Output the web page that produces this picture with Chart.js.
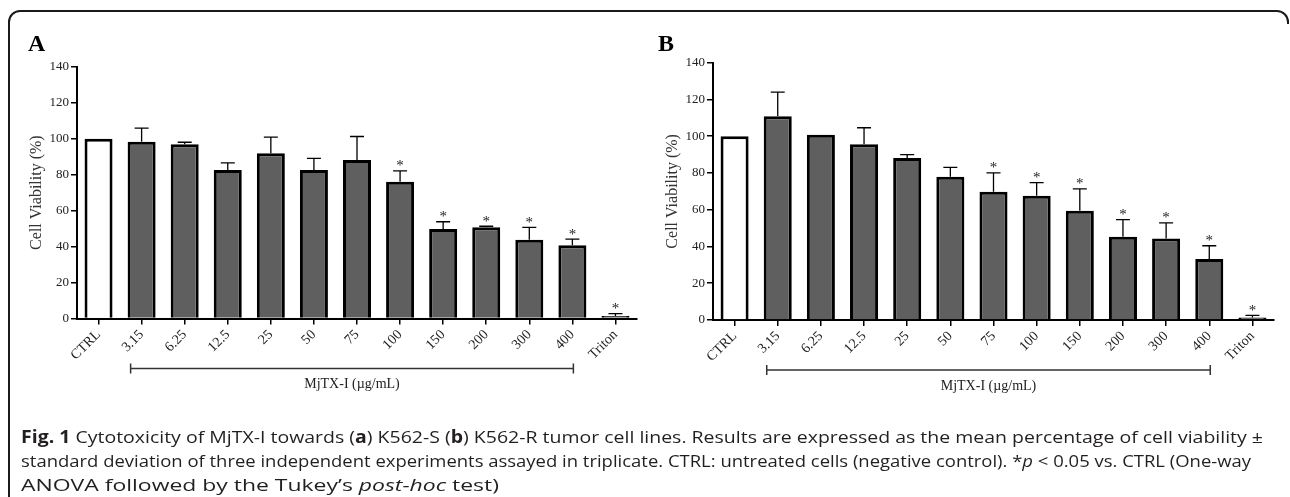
<!DOCTYPE html>
<html><head><meta charset="utf-8">
<script src="https://cdn.jsdelivr.net/npm/chart.js@4.4.1/dist/chart.umd.min.js"></script>
<style>
html,body{margin:0;padding:0;background:#fff;}
body{width:1290px;height:497px;overflow:hidden;position:relative;}
#overlay{position:absolute;left:0;top:0;}
.pw{position:absolute;top:0;width:645px;height:440px;}
.pw canvas{position:absolute;left:0;top:0;}
#wa{left:0}
#wb{left:636px}
.cap{position:absolute;left:21px;font-family:"Open Sans",sans-serif;font-size:17px;color:#231f20;white-space:nowrap;transform-origin:0 50%;display:inline-block;line-height:20px;}
.cap b{font-weight:700;}
</style></head>
<body>
<canvas id="overlay" width="1290" height="497"></canvas>
<div class="pw" id="wa"><canvas id="ca" width="645" height="440"></canvas></div>
<div class="pw" id="wb"><canvas id="cb" width="645" height="440"></canvas></div>
<div class="cap" id="l1" style="top:427px"><b>Fig. 1</b> Cytotoxicity of MjTX-I towards (<b>a</b>) K562-S (<b>b</b>) K562-R tumor cell lines. Results are expressed as the mean percentage of cell viability ±</div>
<div class="cap" id="l2" style="top:451px">standard deviation of three independent experiments assayed in triplicate. CTRL: untreated cells (negative control). *<i>p</i> &lt; 0.05 vs. CTRL (One-way</div>
<div class="cap" id="l3" style="top:475px">ANOVA followed by the Tukey’s <i>post-hoc</i> test)</div>
<script>
// ---- data ----
const categories = ['CTRL','3.15','6.25','12.5','25','50','75','100','150','200','300','400','Triton'];
const viabilityA = [100, 98.3, 96.9, 82.5, 91.9, 82.5, 88.1, 76.1, 49.7, 50.7, 43.8, 40.7, 1.4];
const errorTopA  = [100, 105.8, 98.0, 86.5, 100.8, 89.0, 101.2, 82.1, 53.8, 51.3, 50.7, 44.1, 2.7];
const significantA = [0,0,0,0,0,0,0,1,1,1,1,1,1];
const viabilityB = [100, 110.8, 100.8, 95.6, 88.1, 78.0, 69.8, 67.6, 59.5, 45.3, 44.4, 33.2, 1.3];
const errorTopB  = [100, 124.0, 100.8, 104.6, 90.0, 83.0, 80.0, 74.7, 71.3, 54.6, 52.8, 40.4, 2.5];
const significantB = [0,0,0,0,0,0,1,1,1,1,1,1,1];
const yTicks = [0, 20, 40, 60, 80, 100, 120, 140];
const yTitle = 'Cell Viability (%)';
const xTitle = 'MjTX-I (\u00b5g/mL)';
const panelLetters = ['A', 'B'];

const serif = '"Liberation Serif", "Times New Roman", serif';

function decoPlugin(values, errTop, sig, bracketOff, textOff) {
  return {
    id: 'deco',
    afterDatasetsDraw(chart) {
      const ctx = chart.ctx;
      const ys = chart.scales.y;
      const meta = chart.getDatasetMeta(0);
      ctx.save();
      ctx.strokeStyle = '#000';
      ctx.lineWidth = 1.3;
      meta.data.forEach((bar, i) => {
        const yb = ys.getPixelForValue(values[i]);
        const yt = ys.getPixelForValue(errTop[i]);
        if (yb - yt > 0.8) {
          ctx.beginPath();
          ctx.moveTo(bar.x, yb);
          ctx.lineTo(bar.x, yt);
          ctx.moveTo(bar.x - 7, yt);
          ctx.lineTo(bar.x + 7, yt);
          ctx.stroke();
        }
        if (sig[i]) {
          ctx.fillStyle = '#222';
          ctx.font = '15px ' + serif;
          ctx.textAlign = 'center';
          ctx.textBaseline = 'alphabetic';
          ctx.fillText('*', bar.x, Math.min(yt, yb) - 0.5);
        }
      });
      ctx.restore();
    },
    afterDraw(chart) {
      const ctx = chart.ctx;
      const xs = chart.scales.x;
      const y = chart.chartArea.bottom + bracketOff;
      const x1 = xs.getPixelForValue(1) - 11;
      const x2 = xs.getPixelForValue(11) + 1;
      ctx.save();
      ctx.strokeStyle = '#333';
      ctx.lineWidth = 1.5;
      ctx.beginPath();
      ctx.moveTo(x1, y); ctx.lineTo(x2, y);
      ctx.moveTo(x1, y - 5); ctx.lineTo(x1, y + 5);
      ctx.moveTo(x2, y - 5); ctx.lineTo(x2, y + 5);
      ctx.stroke();
      ctx.fillStyle = '#222';
      ctx.font = '14px ' + serif;
      ctx.textAlign = 'center';
      ctx.textBaseline = 'middle';
      ctx.fillText(xTitle, (x1 + x2) / 2, chart.chartArea.bottom + textOff);
      ctx.restore();
    }
  };
}

function buildChart(id, values, errTop, sig, geom) {
  const fills = categories.map((c, i) => i === 0 ? '#ffffff' : '#5f5f5f');
  return new Chart(document.getElementById(id), {
    type: 'bar',
    data: { labels: categories, datasets: [{
      data: values, backgroundColor: fills, borderColor: '#000', borderWidth: 3,
      barPercentage: 0.65, categoryPercentage: 1, borderSkipped: 'start'
    }]},
    options: {
      responsive: false, animation: false, events: [],
      layout: { padding: { left: 20, right: geom.right, top: geom.top, bottom: geom.bottom } },
      plugins: { legend: { display: false }, tooltip: { enabled: false } },
      scales: {
        x: {
          offset: true,
          grid: { display: true, drawOnChartArea: false, drawTicks: true, tickLength: 6, color: '#000', lineWidth: 1.5, offset: false },
          border: { display: true, color: '#000', width: 2 },
          ticks: { minRotation: 45, maxRotation: 45, autoSkip: false, font: { family: serif, size: 14 }, color: '#222', padding: 2 },
          afterFit: s => { s.height = 50; }
        },
        y: {
          min: 0, max: 140,
          afterBuildTicks: s => { s.ticks = yTicks.map(v => ({ value: v })); },
          ticks: { font: { family: serif, size: 13 }, color: '#222', padding: 2 },
          grid: { display: true, drawOnChartArea: false, tickLength: 6, color: '#000', lineWidth: 1.5 },
          border: { display: true, color: '#000', width: 2 },
          title: { display: true, text: yTitle, font: { family: serif, size: 16 }, color: '#333', padding: { top: 7, bottom: 0 } },
          afterFit: s => { s.width = 57; }
        }
      }
    },
    plugins: [decoPlugin(values, errTop, sig, geom.bracket, geom.text)]
  });
}

// overlay: frame + panel letters
const oc = document.getElementById('overlay').getContext('2d');
oc.strokeStyle = '#1a1a1a';
oc.lineWidth = 2;
oc.beginPath();
oc.moveTo(9, 497); oc.lineTo(9, 22); oc.arcTo(9, 11, 20, 11, 11);
oc.lineTo(1277, 11); oc.arcTo(1288, 11, 1288, 22, 11); oc.lineTo(1288, 24);
oc.stroke();
oc.fillStyle = '#000';
oc.font = 'bold 24px ' + serif;
oc.textBaseline = 'alphabetic';
oc.fillText(panelLetters[0], 28, 51);
oc.fillText(panelLetters[1], 658, 51);

buildChart('ca', viabilityA, errorTopA, significantA, { right: 8, top: 66.7, bottom: 440 - 318.5 - 50, bracket: 50, text: 66 });
buildChart('cb', viabilityB, errorTopB, significantB, { right: 7, top: 62.7, bottom: 440 - 320 - 50, bracket: 50, text: 66 });

// caption fitting
[['l1', 1242], ['l2', 1230], ['l3', 478]].forEach(([id, w]) => {
  const el = document.getElementById(id);
  const cw = el.getBoundingClientRect().width;
  el.style.transform = 'scaleX(' + (w / cw) + ')';
});
</script>
</body></html>
